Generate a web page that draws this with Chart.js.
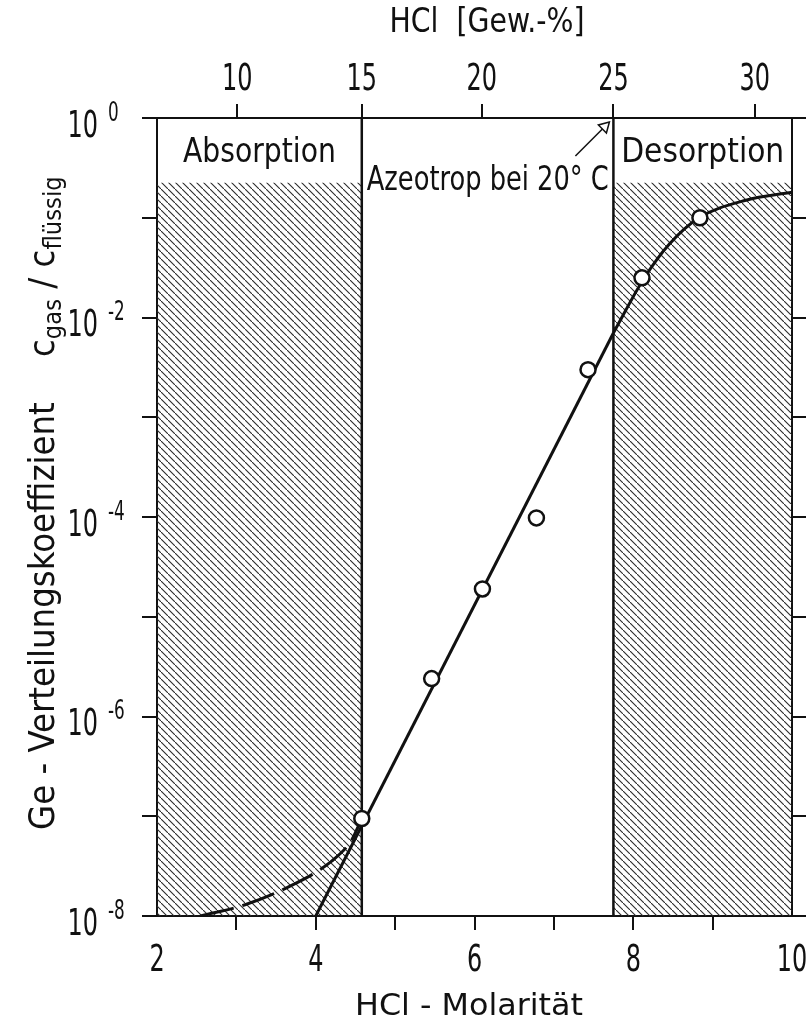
<!DOCTYPE html>
<html>
<head>
<meta charset="utf-8">
<script src="https://cdn.jsdelivr.net/npm/chart.js@4.4.1/dist/chart.umd.min.js"></script>
<style>
  html, body { margin: 0; padding: 0; background: #fff; }
  #wrap { width: 811px; height: 1032px; }
</style>
</head>
<body>
<div id="wrap"><canvas id="chart"></canvas></div>
<script>
const FONT = "'DejaVu Sans Condensed', 'DejaVu Sans', sans-serif";
const INK = '#111';

// measured Ge distribution coefficients (circles)
const molarity = [4.58, 5.46, 6.10, 6.78, 7.43, 8.11, 8.84];
const coeff = [9.5e-8, 2.4e-6, 1.9e-5, 9.8e-5, 3.0e-3, 2.5e-2, 1.0e-1];

// drawn curve: straight part, then bend into saturation
const lineX = [4.0, 7.75];
const lineY = [1.0e-8, 7.0e-3];
const curveX = [7.75, 8.14, 8.45, 8.83, 9.42, 10.0];
const curveY = [7.0e-3, 2.5e-2, 5.4e-2, 1.0e-1, 1.5e-1, 1.8e-1];

// dashed branch inside the absorption range
const dashX = [2.55, 3.1, 3.6, 4.2, 4.45, 4.58];
const dashY = [1.0e-8, 1.29e-8, 1.86e-8, 3.55e-8, 5.75e-8, 9.5e-8];

// shaded ranges (molarity) and height of the hatching
const absorbX = [2, 4.58];
const desorbX = [7.75, 10];
const hatchTop = 0.224;
const yRange = [1e-8, 1];

// axes
const molTicks = [2, 3, 4, 5, 6, 7, 8, 9, 10];
const molLabels = [2, 4, 6, 8, 10];
const wtLabels = ['10', '15', '20', '25', '30'];
const wtAtMolarity = [3.01, 4.58, 6.09, 7.75, 9.53];
const yExponents = [0, -1, -2, -3, -4, -5, -6, -7, -8];
const yLabelExponents = [0, -2, -4, -6, -8];

const pts = (xs, ys) => xs.map((x, i) => ({ x: x, y: ys[i] }));

const canvas = document.getElementById('chart');
const tile = document.createElement('canvas');
tile.width = 7; tile.height = 7;
const tg = tile.getContext('2d');
tg.strokeStyle = '#2a2a2a';
tg.lineWidth = 1.1;
tg.beginPath(); tg.moveTo(-1, -1); tg.lineTo(8, 8); tg.stroke();
const hatch = canvas.getContext('2d').createPattern(tile, 'repeat');

// text squeezed horizontally to look like the narrow drafting font
function drawText(ctx, text, x, y, size, width, align) {
    ctx.save();
    ctx.font = size + 'px ' + FONT;
    const sx = width ? width / ctx.measureText(text).width : 1;
    ctx.textAlign = align || 'center';
    ctx.textBaseline = 'middle';
    ctx.translate(x, y);
    ctx.scale(sx, 1);
    ctx.fillText(text, 0, 0);
    ctx.restore();
}
const NUM_SQ = 0.72;
function drawNum(ctx, text, x, y, size, align) {
    ctx.save();
    ctx.font = size + 'px ' + FONT;
    ctx.textAlign = align || 'center';
    ctx.textBaseline = 'middle';
    ctx.translate(x, y);
    ctx.scale(NUM_SQ, 1);
    ctx.fillText(text, 0, 0);
    ctx.restore();
}

const textPlugin = {
    id: 'texts',
    afterDraw(chart) {
        const { ctx, chartArea: a, scales: { x, x2, y } } = chart;
        ctx.save();
        ctx.fillStyle = INK;
        ctx.strokeStyle = INK;

        // tick labels
        yLabelExponents.forEach(e => {
            const py = y.getPixelForValue(Math.pow(10, e));
            drawNum(ctx, '10', 98, py + 9, 37, 'right');
            drawNum(ctx, e === 0 ? '0' : '-' + (-e), 108, py - 4, 26, 'left');
        });
        molLabels.forEach(v => drawNum(ctx, String(v), x.getPixelForValue(v), 961, 37));
        wtAtMolarity.forEach((v, i) => drawNum(ctx, wtLabels[i], x2.getPixelForValue(v), 80, 37));

        // y axis title with subscripts
        ctx.save();
        ctx.translate(54, 830);
        ctx.rotate(-Math.PI / 2);
        ctx.textAlign = 'left';
        ctx.textBaseline = 'alphabetic';
        const main = 'Ge - Verteilungskoeffizient';
        ctx.font = '100px ' + FONT;
        const s = 100 * 428 / ctx.measureText(main).width;
        ctx.font = s + 'px ' + FONT;
        ctx.fillText(main, 0, 0);
        let cx = 428 + 45;
        const sub = s * 0.7;
        [['c', false], ['gas', true], [' / ', false], ['c', false], ['flüssig', true]].forEach(([t, isSub]) => {
            ctx.font = (isSub ? sub : s) + 'px ' + FONT;
            ctx.fillText(t, cx, isSub ? 7 : 0);
            cx += ctx.measureText(t).width;
        });
        ctx.restore();

        // x axis titles
        drawText(ctx, 'HCl - Molarität', (355 + 583) / 2, 1007, 31, 228);
        drawText(ctx, 'HCl  [Gew.-%]', 487, 23, 34, 195);

        // range labels
        const labelY = (a.top + y.getPixelForValue(hatchTop)) / 2 + 3;
        drawText(ctx, 'Absorption', (x.getPixelForValue(absorbX[0]) + x.getPixelForValue(absorbX[1])) / 2, labelY, 34, 153);
        drawText(ctx, 'Desorption', (x.getPixelForValue(desorbX[0]) + x.getPixelForValue(desorbX[1])) / 2, labelY, 34, 163);
        drawText(ctx, 'Azeotrop bei 20° C', x.getPixelForValue(absorbX[1]) + 5, y.getPixelForValue(hatchTop) - 1, 33, 242, 'left');

        // arrow to the azeotrope tick
        const tx = x.getPixelForValue(wtAtMolarity[3]) - 4, ty = a.top + 4;
        ctx.lineWidth = 1.5;
        ctx.beginPath();
        ctx.moveTo(tx - 34, ty + 34);
        ctx.lineTo(tx - 6, ty + 6);
        ctx.stroke();
        ctx.beginPath();
        ctx.moveTo(tx, ty);
        ctx.lineTo(tx - 11, ty + 3);
        ctx.lineTo(tx - 3, ty + 11);
        ctx.closePath();
        ctx.fillStyle = '#fff';
        ctx.fill();
        ctx.stroke();
        ctx.restore();
    }
};

const axisGrid = (len, colorFn) => ({
    drawOnChartArea: false,
    drawTicks: true,
    tickLength: len,
    lineWidth: 2,
    color: colorFn || INK
});
const axisBorder = { display: true, color: INK, width: 2 };
const fixSize = (w, h) => s => {
    if (w) s.width = w;
    if (h) s.height = h;
    s.paddingLeft = 0; s.paddingRight = 0; s.paddingTop = 0; s.paddingBottom = 0;
};

new Chart(canvas, {
    type: 'line',
    data: {
        datasets: [
            {
                data: pts(absorbX, [hatchTop, hatchTop]),
                fill: 'start', backgroundColor: hatch, borderWidth: 0, pointRadius: 0, order: 10
            },
            {
                data: pts(desorbX, [hatchTop, hatchTop]),
                fill: 'start', backgroundColor: hatch, borderWidth: 0, pointRadius: 0, order: 10
            },
            {
                data: pts([absorbX[1], absorbX[1]], yRange),
                borderColor: INK, borderWidth: 2.5, pointRadius: 0, order: 5
            },
            {
                data: pts([desorbX[0], desorbX[0]], yRange),
                borderColor: INK, borderWidth: 2.5, pointRadius: 0, order: 5
            },
            {
                data: pts(lineX, lineY),
                borderColor: INK, borderWidth: 3, pointRadius: 0, tension: 0, order: 3
            },
            {
                data: pts(curveX, curveY),
                borderColor: INK, borderWidth: 3, pointRadius: 0, cubicInterpolationMode: 'monotone', order: 3
            },
            {
                data: pts(dashX, dashY),
                borderColor: INK, borderWidth: 3, borderDash: [34, 9], pointRadius: 0, cubicInterpolationMode: 'monotone', order: 3
            },
            {
                data: pts(molarity, coeff),
                showLine: false, pointStyle: 'circle', pointRadius: 7.5, pointBorderWidth: 2.5,
                pointBackgroundColor: '#fff', pointBorderColor: INK, order: 0
            }
        ]
    },
    options: {
        responsive: true,
        maintainAspectRatio: false,
        animation: false,
        layout: { padding: 0 },
        plugins: { legend: { display: false }, tooltip: { enabled: false } },
        scales: {
            x: {
                type: 'linear', position: 'bottom', min: 2, max: 10,
                afterBuildTicks: s => { s.ticks = molTicks.map(v => ({ value: v })); },
                afterFit: fixSize(0, 116),
                ticks: { display: false },
                grid: axisGrid(14, c => (c.tick && (c.tick.value === 2 || c.tick.value === 10)) ? 'rgba(0,0,0,0)' : INK),
                border: axisBorder
            },
            x2: {
                type: 'linear', position: 'top', min: 2, max: 10,
                afterBuildTicks: s => { s.ticks = wtAtMolarity.map(v => ({ value: v })); },
                afterFit: fixSize(0, 118),
                ticks: { display: false },
                grid: axisGrid(14),
                border: axisBorder
            },
            y: {
                type: 'logarithmic', position: 'left', min: yRange[0], max: yRange[1],
                afterBuildTicks: s => { s.ticks = yExponents.map(e => ({ value: Math.pow(10, e) })); },
                afterFit: fixSize(157, 0),
                ticks: { display: false },
                grid: axisGrid(15),
                border: axisBorder
            },
            y2: {
                type: 'logarithmic', position: 'right', min: yRange[0], max: yRange[1],
                afterBuildTicks: s => { s.ticks = yExponents.map(e => ({ value: Math.pow(10, e) })); },
                afterFit: fixSize(19, 0),
                ticks: { display: false },
                grid: axisGrid(14),
                border: axisBorder
            }
        }
    },
    plugins: [textPlugin]
});
</script>
</body>
</html>
